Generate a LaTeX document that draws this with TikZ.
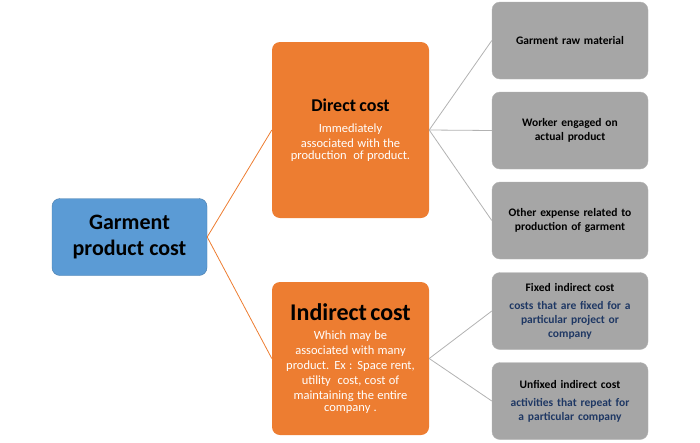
\documentclass[tikz,border=0pt]{standalone}
\usepackage{fontspec}
\setmainfont{Carlito}
\begin{document}
\begin{tikzpicture}[x=1pt,y=-1pt,
    box/.style={rounded corners=8pt, align=center, inner sep=3pt},
    rootbox/.style={box, fill=rootblue, draw=rootblue!80!black, minimum width=155pt, minimum height=77pt, font=\fontsize{22}{26}\selectfont\bfseries},
    costbox/.style={box, fill=costorange, minimum width=157pt, text width=150pt},
    leafbox/.style={box, fill=leafgray, draw=gray!60, minimum width=156pt, minimum height=77pt, text width=150pt, font=\fontsize{11.5}{14}\selectfont\bfseries},
    orangeline/.style={draw=costorange, line width=0.8pt},
    grayline/.style={draw=gray!60, line width=0.8pt}]
    \definecolor{rootblue}{RGB}{91,155,213}
    \definecolor{costorange}{RGB}{237,125,49}
    \definecolor{leafgray}{RGB}{166,166,166}
    \definecolor{notenavy}{RGB}{31,56,100}

    % bounding box
    \useasboundingbox (0,0) rectangle (700,442);

    % root
    \node[rootbox] (root) at (129.5,237) {Garment\\product cost};

    % cost boxes
    \node[costbox, minimum height=176pt] (direct) at (350.5,130)
        {{\fontsize{18}{22}\selectfont\bfseries Direct cost}\\[6pt]
         {\fontsize{12.5}{15}\selectfont\color{white}Immediately\\associated with the\\production\ \ of product.}};
    \node[costbox, minimum height=153pt] (indirect) at (350.5,358.5)
        {{\fontsize{24}{28}\selectfont\bfseries Indirect cost}\\[4pt]
         {\fontsize{12.5}{15}\selectfont\color{white}Which may be\\associated with many\\product. Ex : Space rent,\\utility\ \ cost, cost of\\maintaining the entire\\company .}};

    % leaf boxes
    \node[leafbox] (raw) at (570,40.5) {Garment raw material};
    \node[leafbox] (worker) at (570,130.5) {Worker engaged on\\actual product};
    \node[leafbox] (other) at (570,220.5) {Other expense related to\\production of garment};
    \node[leafbox] (fixed) at (570,311) {Fixed indirect cost\\[4pt]
        {\color{notenavy}costs that are fixed for a\\particular project or\\company}};
    \node[leafbox] (unfixed) at (570,401) {Unfixed indirect cost\\[4pt]
        {\color{notenavy}activities that repeat for\\a particular company}};

    % connectors
    \draw[orangeline] (root.east) -- (direct.west);
    \draw[orangeline] (root.east) -- (indirect.west);
    \foreach \leaf in {raw,worker,other}
        \draw[grayline] (direct.east) -- (\leaf.west);
    \foreach \leaf in {fixed,unfixed}
        \draw[grayline] (indirect.east) -- (\leaf.west);

\end{tikzpicture}
\end{document}
